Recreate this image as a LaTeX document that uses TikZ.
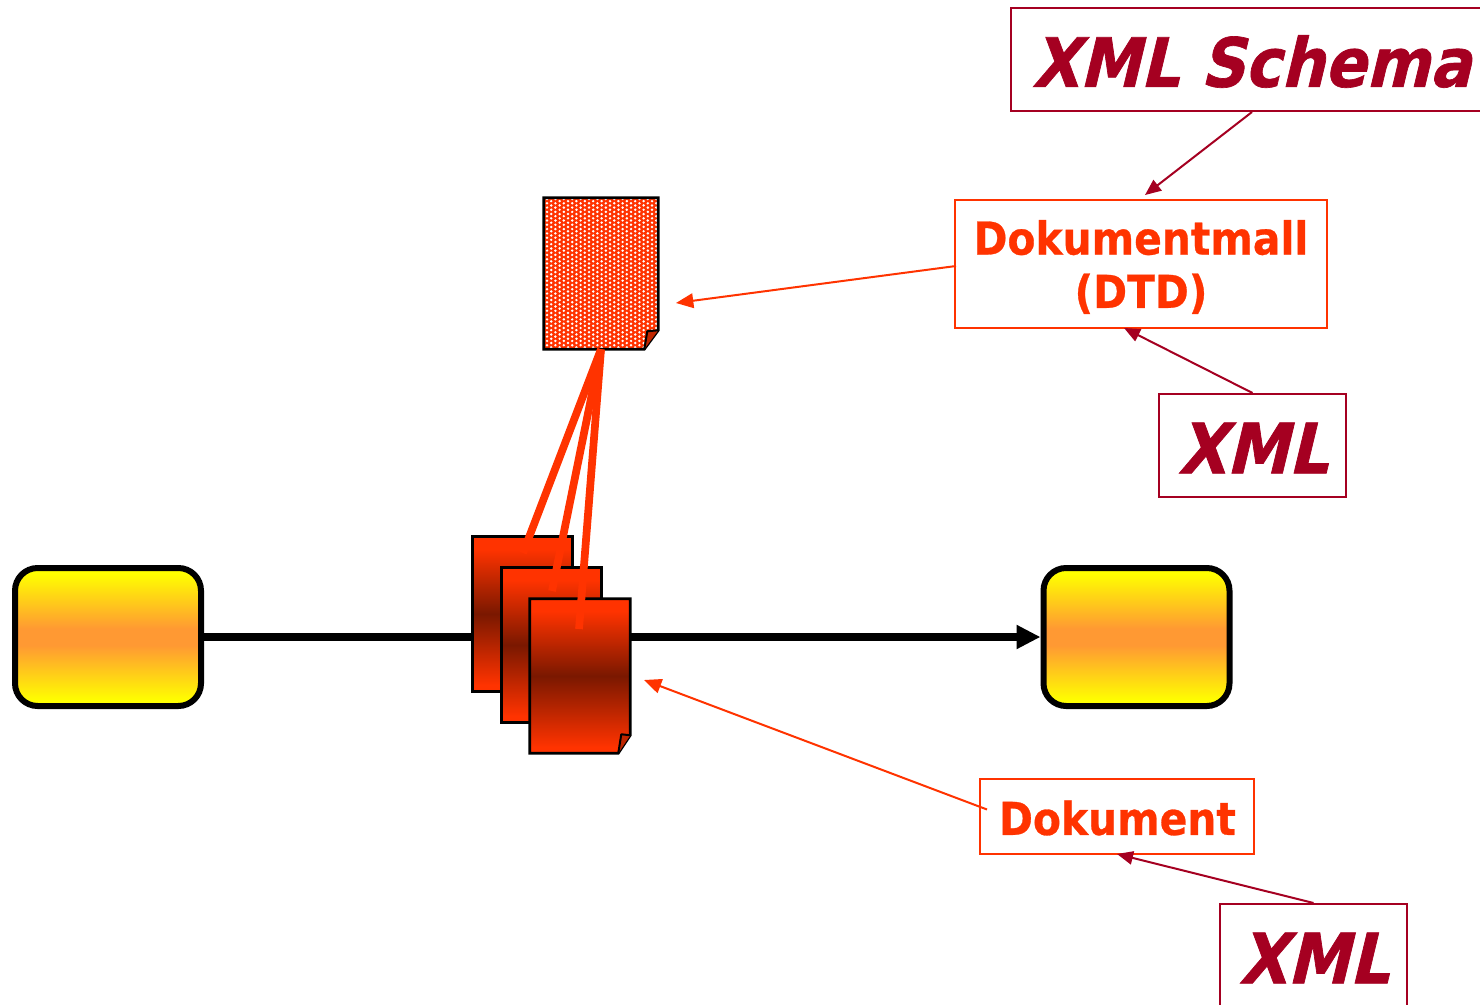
\documentclass[tikz,border=0pt]{standalone}
\usepackage{fontspec}
\usetikzlibrary{arrows.meta}
\newfontfamily\lblfont[FakeStretch=0.9,FakeBold=0.6]{DejaVu Sans Bold}
\newfontfamily\xmlfont[FakeStretch=0.9,FakeSlant=0.24,FakeBold=1]{DejaVu Sans Bold}
\definecolor{maroonc}{HTML}{A50021}
\definecolor{orangec}{HTML}{FF3300}
\definecolor{darkc}{HTML}{7A1800}
\definecolor{midy}{HTML}{FF9933}
\definecolor{yellowc}{HTML}{FFFF00}
\pgfdeclareverticalshading{pagegrad}{100bp}{color(0bp)=(orangec); color(27bp)=(orangec); color(50bp)=(darkc); color(71bp)=(orangec); color(100bp)=(orangec)}
\pgfdeclareverticalshading{boxgrad}{100bp}{color(0bp)=(yellowc); color(27bp)=(yellowc); color(47bp)=(midy); color(53bp)=(midy); color(73bp)=(yellowc); color(100bp)=(yellowc)}
\def\p{*0.75pt}
\tikzset{
  xmlbox/.style={draw=maroonc,line width=1.5pt,fill=white,inner sep=0pt,text=maroonc,font=\xmlfont},
  lblbox/.style={draw=orangec,line width=1.5pt,fill=white,inner sep=0pt,text=orangec,font=\lblfont,align=center},
  endbox/.style={draw=black,line width=4.5pt,rounded corners=17pt,shading=boxgrad,minimum width=186\p,minimum height=138\p,inner sep=0pt},
  pageanchor/.style={inner sep=0pt,minimum width=100\p,minimum height=154\p},
  pageline/.style={draw=black,line width=2pt,line join=miter},
  maroonarrow/.style={draw=maroonc,line width=1.5pt,-{Triangle[length=12pt,width=10pt]}},
  orangearrow/.style={draw=orangec,line width=1.5pt,-{Triangle[length=13pt,width=11pt]}},
  mainline/.style={draw=black,line width=5.4pt,-{Triangle[length=18pt,width=17pt]}},
  linkline/.style={draw=orangec,line width=5.8pt},
  gradpage/.style={pageline,shading=pagegrad}
}
\begin{document}
\begin{tikzpicture}[x=0.75pt,y=-0.75pt]
\useasboundingbox (0,0) rectangle (1480,1005);
\clip (0,0) rectangle (1480,1005);
% end boxes
\node[endbox] (left) at (108,637) {};
\node[endbox] (right) at (1136.5,637) {};
\draw[mainline] (left.east) -- (right.west);
% pages
\node[pageanchor] (p1) at (522.5,614) {};
\node[pageanchor] (p2) at (551.5,645) {};
\node[pageanchor] (p3) at (580,676) {};
\node[pageanchor,minimum width=114\p,minimum height=151\p] (tpl) at (601,273.5) {};
\draw[gradpage] (p1.north west) rectangle (p1.south east);
\draw[gradpage] (p2.north west) rectangle (p2.south east);
\draw[gradpage] (p3.north west) -- (p3.north east) -- ([yshift=18\p]p3.south east) -- ([xshift=-12\p]p3.south east) -- (p3.south west) -- cycle;
\fill[orangec!75!black] ([xshift=-12\p]p3.south east) -- ([shift={(-9,-19)}]p3.south east) -- ([yshift=18\p]p3.south east) -- cycle;
\draw[black,line width=1.5pt,line join=round] ([xshift=-12\p]p3.south east) -- ([shift={(-9,-19)}]p3.south east) -- ([yshift=18\p]p3.south east);
% template page
\fill[orangec] (tpl.north west) -- (tpl.north east) -- ([yshift=19\p]tpl.south east) -- ([xshift=-14\p]tpl.south east) -- (tpl.south west) -- cycle;
\begin{scope}
\clip (tpl.north west) -- (tpl.north east) -- ([yshift=19\p]tpl.south east) -- ([xshift=-14\p]tpl.south east) -- (tpl.south west) -- cycle;
\foreach \i in {0,...,27}{\foreach \j in {0,...,35}{
  \pgfmathsetmacro{\oy}{mod(\i,2)*2.15}
  \fill[white] (547+\i*4.2,199+\j*4.3+\oy) circle[radius=1.35];
}}
\end{scope}
\draw[pageline,line width=2pt] (tpl.north west) -- (tpl.north east) -- ([yshift=19\p]tpl.south east) -- ([xshift=-14\p]tpl.south east) -- (tpl.south west) -- cycle;
\fill[orangec!75!black] ([xshift=-14\p]tpl.south east) -- ([shift={(-11,-18)}]tpl.south east) -- ([yshift=19\p]tpl.south east) -- cycle;
\draw[black,line width=1.5pt,line join=round] ([xshift=-14\p]tpl.south east) -- ([shift={(-11,-18)}]tpl.south east) -- ([yshift=19\p]tpl.south east);
% link lines
\coordinate (e1) at (523,553);
\coordinate (e2) at (552,591);
\coordinate (e3) at (579,629);
\draw[linkline] (tpl.south) -- (e1);
\draw[linkline] (tpl.south) -- (e2);
\draw[linkline] (tpl.south) -- (e3);
% label boxes
\node[xmlbox,minimum width=482\p,minimum height=103\p] (schema) at (1252,59.5) {};
\node[text=maroonc,inner sep=0pt,font=\xmlfont\fontsize{51pt}{60pt}\selectfont] (schemat) at (1251.5,61.5) {XML Schema};
\node[lblbox,minimum width=372\p,minimum height=128\p] (dtd) at (1141,264) {};
\node[text=orangec,inner sep=0pt,align=center,font=\lblfont\fontsize{34pt}{40pt}\selectfont] (dtdt) at (1141,267) {Dokumentmall\\(DTD)};
\node[xmlbox,minimum width=187\p,minimum height=103\p] (xmlb) at (1252.5,445.5) {};
\node[text=maroonc,inner sep=0pt,font=\xmlfont\fontsize{52pt}{60pt}\selectfont] (xmlbt) at (1253,448) {XML};
\node[lblbox,minimum width=274\p,minimum height=75\p] (dok) at (1117,816.5) {};
\node[text=orangec,inner sep=0pt,font=\lblfont\fontsize{34pt}{40pt}\selectfont] (dokt) at (1117.5,818) {Dokument};
\node[xmlbox,minimum width=187\p,minimum height=103\p] (xmlc) at (1313.5,955.5) {};
\node[text=maroonc,inner sep=0pt,font=\xmlfont\fontsize{52pt}{60pt}\selectfont] (xmlct) at (1314,958) {XML};
% connectors
\coordinate (a1) at (1145,195);
\coordinate (a2) at (1124,328);
\coordinate (a3) at (676,303);
\coordinate (a4) at (644,680);
\coordinate (a5) at (1117,854);
\draw[maroonarrow] (schema.south) -- (a1);
\draw[maroonarrow] (xmlb.north) -- (a2);
\draw[orangearrow] ([shift={(2,2)}]dtd.west) -- (a3);
\draw[orangearrow] ([shift={(8,-7)}]dok.west) -- (a4);
\draw[maroonarrow] (xmlc.north) -- (a5);
\end{tikzpicture}
\end{document}
